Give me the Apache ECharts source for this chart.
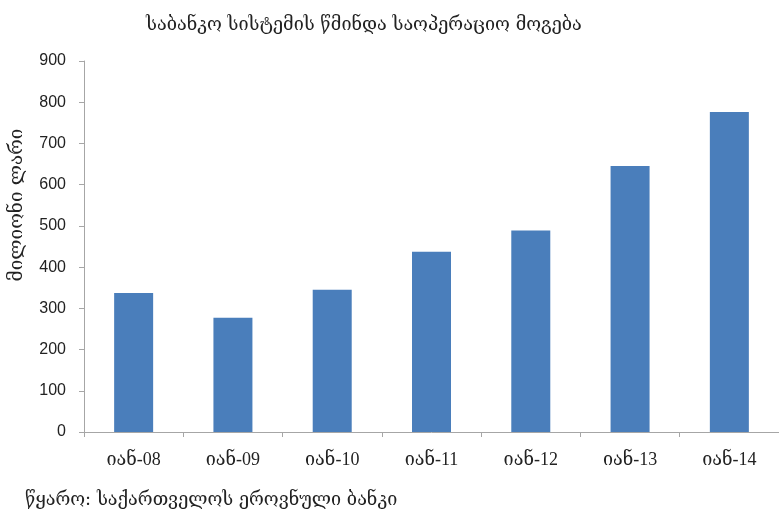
<!DOCTYPE html>
<html>
<head>
<meta charset="utf-8">
<script src="https://cdn.jsdelivr.net/npm/echarts@6/dist/echarts.min.js"></script>
<style>
html,body{margin:0;padding:0;background:#fff;}
#chart{width:779px;height:517px;}
</style>
</head>
<body>
<div id="chart"></div>
<script>
var titleText = 'საბანკო სისტემის წმინდა საოპერაციო მოგება';
var yAxisName = 'მილიონი ლარი';
var sourceText = 'წყარო: საქართველოს ეროვნული ბანკი';
var categories = ['იან-08','იან-09','იან-10','იან-11','იან-12','იან-13','იან-14'];
var values = [337, 277, 345, 437, 489, 645, 776];
var yMin = 0, yMax = 900, yStep = 100;

var geoFont = '"DejaVu Serif", "DejaVu Sans", serif';
var chart = echarts.init(document.getElementById('chart'));
chart.setOption({
  animation: false,
  backgroundColor: '#ffffff',
  title: [
    { text: titleText, left: 141, top: 11,
      textStyle: { fontSize: 18, fontWeight: 'normal', color: '#222', fontFamily: geoFont } },
    { text: sourceText, left: 20, top: 486,
      textStyle: { fontSize: 18, fontWeight: 'normal', color: '#222', fontFamily: geoFont } }
  ],
  graphic: [
    { type: 'text', x: 17, y: 205, rotation: Math.PI / 2,
      style: { text: yAxisName, fill: '#222', font: '19px ' + geoFont,
               textAlign: 'center', textVerticalAlign: 'middle' } }
  ],
  grid: { left: 84, top: 61, width: 707, bottom: 85, containLabel: false },
  xAxis: {
    type: 'category',
    data: categories,
    axisLine: { lineStyle: { color: '#a6a6a6', width: 1 } },
    axisTick: { show: true, alignWithLabel: false, length: 5, lineStyle: { color: '#a6a6a6' } },
    axisLabel: { color: '#222', fontSize: 18, margin: 19,
                 fontFamily: '"Liberation Serif", "DejaVu Serif", serif' }
  },
  yAxis: {
    type: 'value',
    min: yMin, max: yMax, interval: yStep,
    axisLine: { show: true, lineStyle: { color: '#a6a6a6', width: 1 } },
    axisTick: { show: true, length: 5, lineStyle: { color: '#a6a6a6' } },
    splitLine: { show: false },
    axisLabel: { color: '#222', fontSize: 16, margin: 18,
                 fontFamily: '"Liberation Sans", Arial, sans-serif' }
  },
  series: [{
    type: 'bar',
    data: values,
    barWidth: 39,
    itemStyle: { color: '#4a7ebb' }
  }]
});
</script>
</body>
</html>
